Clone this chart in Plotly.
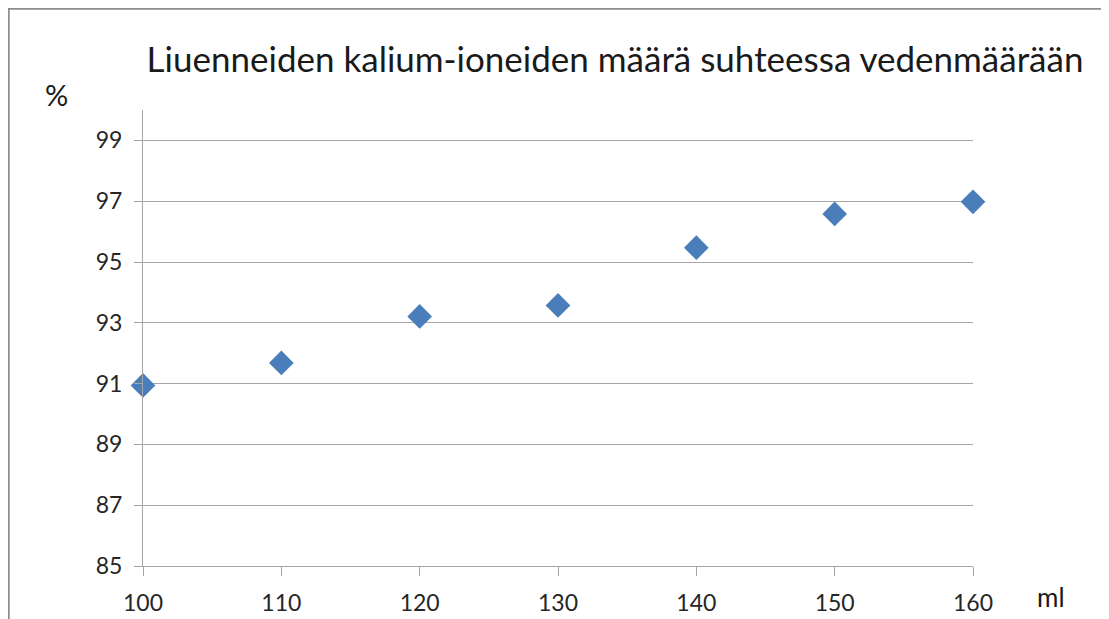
import plotly.graph_objects as go

ml = [100, 110, 120, 130, 140, 150, 160]
percent = [90.94, 91.68, 93.21, 93.57, 95.47, 96.58, 96.98]
y_ticks = [85, 87, 89, 91, 93, 95, 97, 99]
x_ticks = [100, 110, 120, 130, 140, 150, 160]
title_text = "Liuenneiden kalium-ioneiden määrä suhteessa vedenmäärään"

OFF = 8  # default page body margin
W, H = 1109 - OFF, 619 - OFF
ml_l, ml_r, ml_t, ml_b = 135, 136, 102, 53
pw, ph = W - ml_l - ml_r, H - ml_t - ml_b

def px(x):
    # x in screen pixels -> paper coords
    return (x - OFF - ml_l) / pw

def py(y):
    return (H - ml_b - (y - OFF)) / ph

FONT = "Lato"
grid = "#a6a6a6"

fig = go.Figure()
fig.add_trace(go.Scatter(
    x=ml, y=percent, mode="markers",
    marker=dict(symbol="diamond", size=19, color="#4a7ebb",
                line=dict(width=0)),
    showlegend=False, cliponaxis=False,
))

fig.update_layout(
    width=W, height=H,
    margin=dict(l=ml_l, r=ml_r, t=ml_t, b=ml_b),
    paper_bgcolor="white", plot_bgcolor="white",
    font=dict(family=FONT, color="#262626"),
    xaxis=dict(range=[100, 160], tickvals=x_ticks, showgrid=False,
               showline=True, linecolor=grid, linewidth=1,
               ticks="outside", ticklen=9, tickcolor=grid,
               tickfont=dict(size=23, family=FONT, color="#262626"),
               ticklabelstandoff=7, zeroline=False, fixedrange=True,
               automargin=False),
    yaxis=dict(range=[85, 100], tickvals=y_ticks, showgrid=True,
               gridcolor=grid, gridwidth=1,
               showline=True, linecolor=grid, linewidth=1,
               ticks="outside", ticklen=8, tickcolor=grid,
               tickfont=dict(size=23, family=FONT, color="#262626"),
               ticklabelstandoff=7, zeroline=False, fixedrange=True,
               automargin=False),
    title=dict(text=title_text, x=(615 - OFF) / W, xanchor="center",
               y=1 - (60 - OFF) / H, yanchor="middle", xref="container", yref="container",
               font=dict(size=35, family=FONT, color="#1a1a1a"), automargin=False),
    annotations=[
        dict(text="%", x=px(56), y=py(95), xref="paper", yref="paper",
             xanchor="center", yanchor="middle", showarrow=False,
             font=dict(size=29, family=FONT, color="#1a1a1a")),
        dict(text="ml", x=px(1051), y=py(597), xref="paper", yref="paper",
             xanchor="center", yanchor="middle", showarrow=False,
             font=dict(size=26, family=FONT, color="#1a1a1a")),
    ],
    shapes=[
        dict(type="rect", xref="paper", yref="paper",
             x0=px(8.7), x1=px(1130), y0=py(650), y1=py(8.7),
             line=dict(color="#8c8c8c", width=2), fillcolor="rgba(0,0,0,0)",
             layer="below"),
    ],
)

fig.write_html("out.html")
